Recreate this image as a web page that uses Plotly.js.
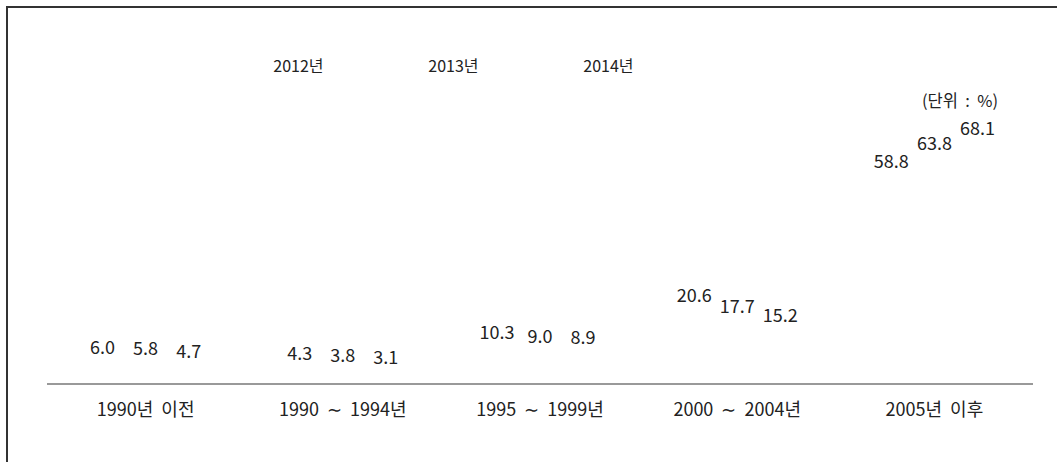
<!DOCTYPE html>
<html>
<head>
<meta charset="utf-8">
<script src="https://cdn.plot.ly/plotly-3.0.1.min.js"></script>
<style>
html,body{margin:0;padding:0;background:#fff;overflow:hidden;}
#frame{position:absolute;left:6px;top:6px;width:1100px;height:500px;border:2px solid #333;box-sizing:border-box;pointer-events:none;z-index:5;}
#chart{width:1057px;height:462px;}
</style>
</head>
<body>
<div id="frame"></div>
<div id="chart"></div>
<script>
const categories = ['1990년\u00a0\u00a0이전', '1990\u00a0\u00a0∼\u00a0\u00a01994년', '1995\u00a0\u00a0∼\u00a0\u00a01999년', '2000\u00a0\u00a0∼\u00a0\u00a02004년', '2005년\u00a0\u00a0이후'];
const seriesNames = ['2012년', '2013년', '2014년'];
const values2012 = [6.0, 4.3, 10.3, 20.6, 58.8];
const values2013 = [5.8, 3.8, 9.0, 17.7, 63.8];
const values2014 = [4.7, 3.1, 8.9, 15.2, 68.1];
const unitLabel = '(단위\u00a0\u00a0:\u00a0\u00a0%)';

const allValues = [values2012, values2013, values2014];
const fontFamily = '"Noto Sans CJK KR", "Noto Sans", sans-serif';

const traces = allValues.map((vals, i) => ({
  type: 'bar',
  name: seriesNames[i],
  x: categories,
  y: vals,
  text: vals.map(v => v.toFixed(1)),
  textposition: 'outside',
  cliponaxis: false,
  textfont: {family: fontFamily, size: 18, color: '#222'},
  marker: {color: 'rgba(0,0,0,0)', line: {width: 0}},
  hoverinfo: 'none'
}));

const layout = {
  width: 1057,
  height: 462,
  margin: {l: 47, r: 24, t: 119, b: 79},
  paper_bgcolor: '#fff',
  plot_bgcolor: '#fff',
  barmode: 'group',
  bargap: 0.345,
  bargroupgap: 0,
  font: {family: fontFamily, size: 16, color: '#222'},
  showlegend: true,
  legend: {
    orientation: 'h',
    x: 0.189, xanchor: 'left',
    y: 1.2, yanchor: 'middle',
    entrywidth: 110,
    font: {family: fontFamily, size: 16, color: '#222'},
    bgcolor: 'rgba(0,0,0,0)'
  },
  xaxis: {
    type: 'category',
    showline: true,
    linecolor: '#999',
    linewidth: 1.5,
    ticks: '',
    showgrid: false,
    zeroline: false,
    ticklabelstandoff: 10,
    tickfont: {family: fontFamily, size: 18, color: '#222'},
    fixedrange: true
  },
  yaxis: {
    range: [0, 75],
    visible: false,
    showgrid: false,
    zeroline: false,
    fixedrange: true
  },
  annotations: [{
    text: unitLabel,
    xref: 'paper', yref: 'paper',
    x: 0.926, y: 1.072,
    xanchor: 'center', yanchor: 'middle',
    showarrow: false,
    font: {family: fontFamily, size: 16.5, color: '#222'}
  }]
};

Plotly.newPlot('chart', traces, layout, {displayModeBar: false, staticPlot: true});
</script>
</body>
</html>
